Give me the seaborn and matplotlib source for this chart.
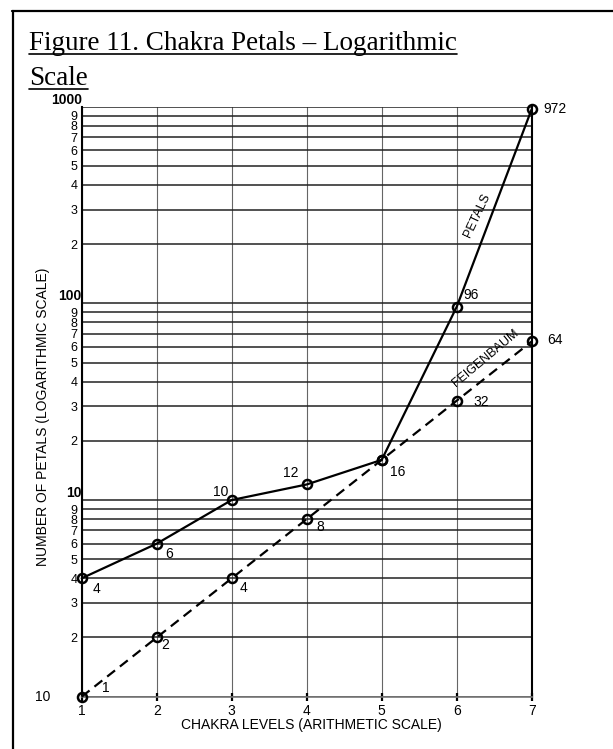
import pandas as pd
import matplotlib.pyplot as plt
from matplotlib.lines import Line2D
import seaborn as sns

# ---- chart values ----
chakra_levels = [1, 2, 3, 4, 5, 6, 7]
petals = [4, 6, 10, 12, 16, 96, 972]
feigenbaum = [1, 2, 4, 8, 16, 32, 64]
petal_labels = ['4', '6', '10', '12', '16', '96', '972']
feigenbaum_labels = ['1', '2', '4', '8', '', '32', '64']

y_ticks = [1, 2, 3, 4, 5, 6, 7, 8, 9,
           10, 20, 30, 40, 50, 60, 70, 80, 90,
           100, 200, 300, 400, 500, 600, 700, 800, 900, 1000]
y_tick_labels = ['', '2', '3', '4', '5', '6', '7', '8', '9',
                 '', '2', '3', '4', '5', '6', '7', '8', '9',
                 '', '2', '3', '4', '5', '6', '7', '8', '9', '']
decade_values = [10, 100, 1000]
decade_labels = ['10', '100', '1000']
origin_label = '10'

# label offsets in pixels (dx, dy), same order as the values
petal_offsets = [(15, -11), (12, -10), (-11, 8), (-16, 11), (16, -12), (14, 12), (23, 0)]
feig_offsets = [(24, 9), (8, -8), (12, -10), (14, -8), (0, 0), (25, -1), (23, 1)]

sns.set_theme(style='white')
plt.rcParams['font.family'] = ['Liberation Sans', 'DejaVu Sans']
plt.rcParams['text.color'] = 'black'
plt.rcParams['axes.labelcolor'] = 'black'
plt.rcParams['xtick.color'] = 'black'
plt.rcParams['ytick.color'] = 'black'

W, H = 613, 749
fig = plt.figure(figsize=(W / 100, H / 100), dpi=100)
ax = fig.add_axes([81.7 / W, 1 - 696.7 / H, 450 / W, 590 / H])

df = pd.DataFrame({
    'level': chakra_levels * 2,
    'count': petals + feigenbaum,
    'series': ['Petals'] * len(petals) + ['Feigenbaum'] * len(feigenbaum),
})

sns.lineplot(data=df, x='level', y='count', style='series',
             dashes={'Petals': '', 'Feigenbaum': (4.5, 2.8)},
             markers={'Petals': 'o', 'Feigenbaum': 'o'},
             color='black', linewidth=1.6, markersize=6.5,
             markerfacecolor='none', markeredgecolor='black',
             markeredgewidth=1.8, clip_on=False, legend=False,
             zorder=5, ax=ax)

ax.set_yscale('log')
ax.set_xlim(1, 7)
ax.set_ylim(1, 1000)
ax.set_yticks(y_ticks, y_tick_labels)
ax.set_xticks(chakra_levels, [str(v) for v in chakra_levels])
ax.minorticks_off()

ax.grid(axis='y', color='#222222', linewidth=1.1)
ax.grid(axis='x', color='#666666', linewidth=0.8)
ax.set_axisbelow(True)

ax.tick_params(axis='y', length=0, pad=3, labelsize=9)
ax.tick_params(axis='x', bottom=True, direction='inout', length=6, width=1.6,
               color='black', pad=2, labelsize=10)

for side in ['left', 'right']:
    ax.spines[side].set_color('black')
    ax.spines[side].set_linewidth(1.5)
ax.spines['top'].set_visible(False)
ax.spines['bottom'].set_color('#777777')
ax.spines['bottom'].set_linewidth(1.2)

ax.set_xlabel('CHAKRA LEVELS (ARITHMETIC SCALE)', fontsize=10)
ax.xaxis.set_label_coords(0.51, -0.036)
ax.set_ylabel('NUMBER OF PETALS (LOGARITHMIC SCALE)', fontsize=10)
ax.yaxis.set_label_coords(-0.070, 0.474)

ytrans = ax.get_yaxis_transform()
for val, lab in zip(decade_values, decade_labels):
    ax.text(0.0, val, lab, transform=ytrans, ha='right', va='bottom',
            fontsize=10, fontweight='bold')
ax.text(-0.070, 1, origin_label, transform=ytrans, ha='right', va='center', fontsize=10)

# value labels
for x, y, lab, off in zip(chakra_levels, petals, petal_labels, petal_offsets):
    ax.annotate(lab, (x, y), xytext=off, textcoords='offset pixels',
                ha='center', va='center', fontsize=10)
for x, y, lab, off in zip(chakra_levels, feigenbaum, feigenbaum_labels, feig_offsets):
    if lab:
        ax.annotate(lab, (x, y), xytext=off, textcoords='offset pixels',
                    ha='center', va='center', fontsize=10)

# series names written along the lines
ax.annotate('PETALS', (chakra_levels[5], petals[5]), xytext=(21, 91),
            textcoords='offset pixels', ha='center', va='center',
            rotation=65, fontsize=9)
ax.annotate('FEIGENBAUM', (chakra_levels[5], feigenbaum[5]), xytext=(29, 42),
            textcoords='offset pixels', ha='center', va='center',
            rotation=40, fontsize=9)

# title, underlined
t1 = fig.text(29 / W, 1 - 50 / H, 'Figure 11. Chakra Petals \u2013 Logarithmic',
              family='Liberation Serif', fontsize=19.5, va='baseline', ha='left')
t2 = fig.text(29 / W, 1 - 85 / H, 'Scale',
              family='Liberation Serif', fontsize=19.5, va='baseline', ha='left')
fig.canvas.draw()
for t, yb in [(t1, 50), (t2, 85)]:
    bb = t.get_window_extent()
    yy = 1 - (yb + 3.5) / H
    fig.add_artist(Line2D([bb.x0 / W, bb.x1 / W], [yy, yy], color='black', linewidth=1.2))

# outer frame (top and left edges)
fig.add_artist(Line2D([12 / W, 1], [1 - 11 / H, 1 - 11 / H], color='black', linewidth=1.6))
fig.add_artist(Line2D([13 / W, 13 / W], [0, 1 - 11 / H], color='black', linewidth=1.6))

fig.savefig('out.png', dpi=100)
